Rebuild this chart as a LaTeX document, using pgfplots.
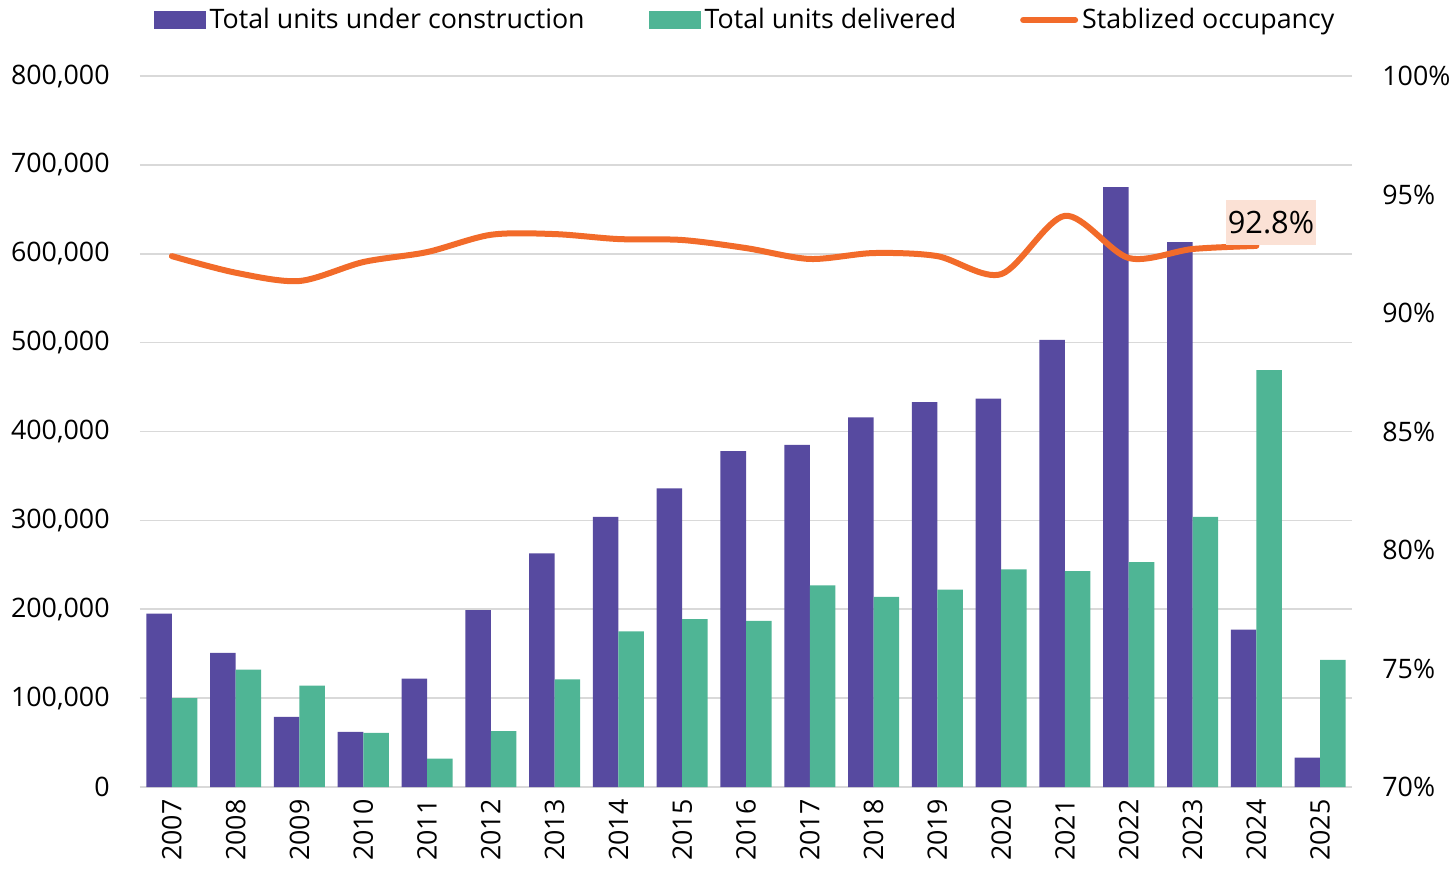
\documentclass[border=0pt]{standalone}
\usepackage{pgfplots}
\pgfplotsset{compat=1.18}
\usepackage{fontspec}
\setmainfont{Open Sans}
\definecolor{constrpurple}{HTML}{574AA0}
\definecolor{delivgreen}{HTML}{4FB595}
\definecolor{occorange}{HTML}{F26B2A}
\definecolor{gridgray}{HTML}{D9D9D9}
\definecolor{lblfill}{HTML}{FBE1D5}
\pgfplotsset{/pgf/number format/assume math mode=true}

\begin{document}
\begin{tikzpicture}[font=\fontsize{13.4}{15}\selectfont]
\begin{axis}[
    width=606pt, height=355.5pt, scale only axis,
    ybar=0pt, bar width=0.4,
    xmin=-0.5, xmax=18.5, ymin=0, ymax=800000,
    xtick={0,...,18},
    xticklabels={2007,2008,2009,2010,2011,2012,2013,2014,2015,2016,2017,2018,2019,2020,2021,2022,2023,2024,2025},
    ytick={0,100000,...,800000},
    scaled y ticks=false,
    yticklabel style={/pgf/number format/fixed, /pgf/number format/1000 sep={,}, anchor=east, inner sep=0pt, xshift=-15pt},
    xticklabel style={yshift=-6pt, rotate=90, anchor=east, inner sep=0pt},
    axis line style={draw=none}, major tick length=0pt,
    ymajorgrids, grid style={gridgray, line width=0.8pt},
    legend style={at={(0.5,1)}, anchor=center, yshift=28pt, draw=none, fill=none,
        legend columns=3, /tikz/every even column/.append style={column sep=30pt},
        nodes={inner xsep=2pt}},
    legend cell align=left,
]
% total units under construction
\addplot[fill=constrpurple, draw=none,
    legend image code/.code={\fill[constrpurple] (0pt,-4.5pt) rectangle (26pt,4.5pt);}]
    coordinates {
    (0,195000) (1,151000) (2,79000) (3,62000) (4,122000) (5,199000) (6,263000)
    (7,304000) (8,336000) (9,378000) (10,385000) (11,416000) (12,433000)
    (13,437000) (14,503000) (15,675000) (16,613000) (17,177000) (18,33000)
    };
% total units delivered
\addplot[fill=delivgreen, draw=none,
    legend image code/.code={\fill[delivgreen] (0pt,-4.5pt) rectangle (26pt,4.5pt);}]
    coordinates {
    (0,100000) (1,132000) (2,114000) (3,61000) (4,32000) (5,63000) (6,121000)
    (7,175000) (8,189000) (9,187000) (10,227000) (11,214000) (12,222000)
    (13,245000) (14,243000) (15,253000) (16,304000) (17,469000) (18,143000)
    };
\addlegendimage{legend image code/.code={\draw[occorange, line width=3pt, line cap=round] (0pt,0pt) -- (26pt,0pt);}}
\legend{Total units under construction, Total units delivered, Stablized occupancy}
\end{axis}

\begin{axis}[
    width=606pt, height=355.5pt, scale only axis,
    xmin=-0.5, xmax=18.5, ymin=70, ymax=100,
    axis x line=none, axis y line*=right,
    ytick={70,75,...,100},
    yticklabel={\pgfmathprintnumber{\tick}\%},
    yticklabel style={anchor=west, inner sep=0pt, xshift=15pt},
    axis line style={draw=none}, major tick length=0pt,
]
\addplot[occorange, line width=3pt, line cap=round, smooth, no marks]
    coordinates {
    (0,92.4) (1,91.7) (2,91.35) (3,92.15) (4,92.57) (5,93.3) (6,93.33)
    (7,93.12) (8,93.08) (9,92.74) (10,92.28) (11,92.53) (12,92.4)
    (13,91.64) (14,94.1) (15,92.32) (16,92.7) (17,92.83)
    };
\node[fill=lblfill, inner xsep=1pt, minimum height=22.5pt, font=\fontsize{15.4}{17}\selectfont]
    at (axis cs:17.23,93.8) {92.8\%};
\end{axis}
\pgfresetboundingbox
\path ([shift={(-70pt,-41pt)}]current axis.south west) rectangle ([shift={(49pt,38pt)}]current axis.north east);
\end{tikzpicture}
\end{document}
